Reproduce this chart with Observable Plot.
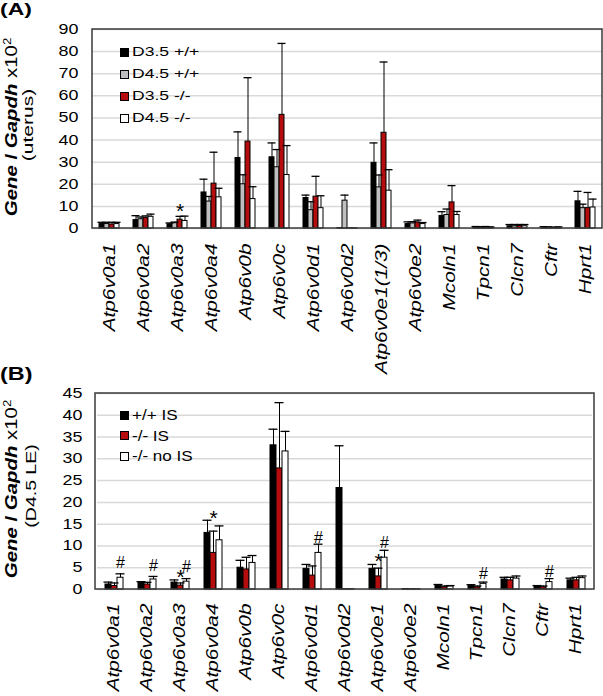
<!DOCTYPE html>
<html><head><meta charset="utf-8">
<script src="https://cdn.jsdelivr.net/npm/d3@7"></script>
<script src="https://cdn.jsdelivr.net/npm/@observablehq/plot@0.6"></script>
<style>
body{margin:0;background:#fff;font-family:"Liberation Sans",Arial,sans-serif;}
#fig{position:relative;width:603px;height:696px;overflow:hidden;background:#fff;}
#fig svg{overflow:visible;position:absolute;left:0;}
#fig svg g[aria-label="y-grid"] line{stroke:#d9d9d9;stroke-opacity:1;stroke-width:1.5px;}
#fig svg g[aria-label="fx-axis tick label"]{font-style:italic;font-size:16px;}
#fig svg g[aria-label="y-axis tick label"]{font-size:14px;}
.leg{position:absolute;left:120px;color:#000;font-family:"Liberation Sans",Arial,sans-serif;}
.leg .row{position:absolute;left:0;height:14px;display:flex;align-items:center;white-space:nowrap;}
.leg .sw{width:9px;height:9px;border:1px solid #000;box-sizing:border-box;margin-right:3px;flex:none;}
.leg .lab{display:inline-block;transform-origin:0 50%;line-height:14px;}
</style></head><body><div id="fig"></div><script>
// ---------- Panel A data (uterus) ----------
const categoriesA = ["Atp6v0a1","Atp6v0a2","Atp6v0a3","Atp6v0a4","Atp6v0b","Atp6v0c","Atp6v0d1","Atp6v0d2","Atp6v0e1(1/3)","Atp6v0e2","Mcoln1","Tpcn1","Clcn7","Cftr","Hprt1"];
const seriesA = ["D3.5 +/+","D4.5 +/+","D3.5 -/-","D4.5 -/-"];
const colorsA = ["#000000","#bfbfbf","#b50d0d","#ffffff"];
const meanA_D35wt = [2.0,3.8,1.9,16.3,31.9,32.2,13.8,0.2,29.7,2.0,5.7,0.5,1.0,0.5,12.3];
const sdA_D35wt   = [0.8,2.0,0.6,6.0,11.8,6.5,1.3,0,9.0,1.0,1.9,0.4,0.8,0.3,4.5];
const meanA_D45wt = [2.0,4.2,2.4,12.2,20.0,27.7,8.3,12.6,18.6,2.3,6.1,0.5,1.0,0.4,9.2];
const sdA_D45wt   = [0.8,1.0,0.5,2.3,4.3,8.0,3.8,2.5,5.6,0.8,2.7,0.3,0.8,0.3,1.8];
const meanA_D35ko = [1.8,4.7,4.0,20.3,39.3,51.4,14.4,0.1,43.3,2.7,11.8,0.5,1.1,0.3,9.2];
const sdA_D35ko   = [1.0,1.0,1.5,14.2,28.9,32.3,9.2,0,32.0,1.1,7.6,0.4,0.7,0.3,7.1];
const meanA_D45ko = [2.0,5.3,3.4,14.1,13.3,24.2,9.2,0.1,17.1,2.0,6.1,0.4,1.0,0.4,9.5];
const sdA_D45ko   = [0.8,1.2,2.2,4.1,5.6,13.3,5.6,0,9.5,0.7,1.6,0.3,0.8,0.3,3.8];
const annA_cat = ["Atp6v0a3"];
const annA_series = ["D3.5 -/-"];
const annA_y = [7.6];
const annA_sym = ["*"];

// ---------- Panel B data (D4.5 LE) ----------
const categoriesB = ["Atp6v0a1","Atp6v0a2","Atp6v0a3","Atp6v0a4","Atp6v0b","Atp6v0c","Atp6v0d1","Atp6v0d2","Atp6v0e1","Atp6v0e2","Mcoln1","Tpcn1","Clcn7","Cftr","Hprt1"];
const seriesB = ["+/+ IS","-/- IS","-/- no IS"];
const colorsB = ["#000000","#b50d0d","#ffffff"];
const meanB_wtIS   = [1.15,1.5,1.6,13.0,5.0,33.1,4.75,23.3,4.75,0.1,0.9,0.9,2.3,0.8,2.1];
const sdB_wtIS     = [0.55,0.3,0.6,2.9,1.7,3.7,1.0,9.7,1.0,0,0.25,0.2,0.5,0.1,0.5];
const meanB_koIS   = [0.8,1.15,0.9,8.4,4.6,27.8,3.2,0.05,3.0,0.05,0.5,0.5,2.1,0.5,2.1];
const sdB_koIS     = [0.7,0.5,0.6,5.0,2.8,15.1,2.2,0,1.9,0,0.3,0.3,0.7,0.3,0.7];
const meanB_koNoIS = [2.7,2.3,1.8,11.3,6.1,31.7,8.4,0.05,7.3,0.05,0.7,1.3,2.5,1.7,2.6];
const sdB_koNoIS   = [0.9,0.7,0.7,3.3,1.7,4.6,2.0,0,1.7,0,0.2,0.4,0.6,0.8,0.5];
const annB_cat = ["Atp6v0a1","Atp6v0a2","Atp6v0a3","Atp6v0a3","Atp6v0a4","Atp6v0d1","Atp6v0e1","Atp6v0e1","Tpcn1","Cftr"];
const annB_series = ["-/- no IS","-/- no IS","-/- IS","-/- no IS","-/- IS","-/- no IS","-/- IS","-/- no IS","-/- no IS","-/- no IS"];
const annB_y = [6.0,5.5,2.7,5.2,16.4,11.9,6.5,10.8,3.7,4.1];
const annB_sym = ["#","#","*","#","*","#","*","#","#","#"];

const FONT = "Liberation Sans, Arial, sans-serif";

function buildRows(cats, series, means, sds) {
  const rows = [];
  series.forEach((s, si) => cats.forEach((c, ci) =>
    rows.push({cat: c, series: s, value: means[si][ci], top: means[si][ci] + sds[si][ci], sd: sds[si][ci]})));
  return rows;
}
function buildAnn(cats, series, ys, syms) {
  return cats.map((c, i) => ({cat: c, series: series[i], y: ys[i], sym: syms[i]}));
}

function panel(o) {
  const rows = buildRows(o.cats, o.series, o.means, o.sds);
  const ann = buildAnn(o.annCat, o.annSeries, o.annY, o.annSym);
  const svg = Plot.plot({
    width: 603, height: o.height,
    marginTop: o.mt, marginBottom: o.mb, marginLeft: o.ml, marginRight: o.mr,
    style: {fontFamily: FONT, fontSize: "14px", color: "#000", background: "transparent", overflow: "visible"},
    fx: {domain: o.cats, padding: 0, axis: "bottom", tickRotate: -90, tickSize: 0, tickPadding: o.fxPad, label: null},
    x: {domain: o.series, axis: null, paddingInner: 0, paddingOuter: o.xPadOuter},
    y: {domain: [0, o.yMax], ticks: 9, tickSize: 0, tickPadding: o.yPad, grid: true, label: null},
    color: {domain: o.series, range: o.colors},
    marks: [
      Plot.barY(rows, {fx: "cat", x: "series", y: "value", fill: "series", stroke: "#000", strokeWidth: 1}),
      Plot.ruleX(rows.filter(d => d.sd > 0), {fx: "cat", x: "series", y1: "value", y2: "top", stroke: "#000", strokeWidth: 1}),
      Plot.tickY(rows.filter(d => d.sd > 0), {fx: "cat", x: "series", y: "top", stroke: "#000", strokeWidth: 1.3, insetLeft: -1.5, insetRight: -1.5}),
      Plot.text(ann.filter(d => d.sym === "*"), {fx: "cat", x: "series", y: "y", text: "sym", fontSize: 21, fill: "#000"}),
      Plot.text(ann.filter(d => d.sym === "#"), {fx: "cat", x: "series", y: "y", text: "sym", fontSize: 16, fill: "#000"})
    ]
  });
  // frame drawn from the plot's own scales
  const fx = svg.scale("fx"), y = svg.scale("y");
  const x0 = Math.min(...fx.range), x1 = Math.max(...fx.range);
  const y0 = Math.min(...y.range), y1 = Math.max(...y.range);
  d3.select(svg).append("rect").attr("x", x0).attr("y", y0).attr("width", x1 - x0).attr("height", y1 - y0)
    .attr("fill", "none").attr("stroke", "#3a3a3a").attr("stroke-width", 1.5);
  // stretch tick labels along the text direction
  svg.querySelectorAll('g[aria-label="y-axis tick label"] text').forEach(t => {
    t.setAttribute("transform", (t.getAttribute("transform") || "") + ` scale(${o.kTick},1)`);
  });
  svg.querySelectorAll('g[aria-label="fx-axis tick label"] text').forEach(t => {
    t.setAttribute("transform", (t.getAttribute("transform") || "") + ` scale(${o.kCat},1)`);
  });
  return svg;
}

function addText(svg, {x, y, rotate = 0, k = 1, size, anchor = "start", parts}) {
  const t = d3.select(svg).append("text")
    .attr("transform", `translate(${x},${y}) rotate(${rotate}) scale(${k},1)`)
    .attr("text-anchor", anchor).attr("font-size", size).attr("fill", "#000")
    .attr("font-family", FONT);
  parts.forEach(p => {
    const s = t.append("tspan").text(p.text);
    if (p.weight) s.attr("font-weight", p.weight);
    if (p.style) s.attr("font-style", p.style);
    if (p.size) s.attr("font-size", p.size);
    if (p.dy) s.attr("dy", p.dy);
  });
}
const titleParts = [
  {text: "Gene", weight: "bold", style: "italic"},
  {text: " / ", weight: "bold"},
  {text: "Gapdh", weight: "bold", style: "italic"},
  {text: " x10"},
  {text: "2", size: 11, dy: -6}
];

function legend(fig, top, series, colors, size, k, step) {
  const div = document.createElement("div");
  div.className = "leg";
  div.style.top = top + "px";
  series.forEach((s, i) => {
    const row = document.createElement("div");
    row.className = "row";
    row.style.top = (i * step - 7) + "px";
    const sw = document.createElement("span");
    sw.className = "sw"; sw.style.background = colors[i];
    const lab = document.createElement("span");
    lab.className = "lab"; lab.textContent = s;
    lab.style.fontSize = size + "px";
    lab.style.transform = `scaleX(${k})`;
    row.appendChild(sw); row.appendChild(lab);
    div.appendChild(row);
  });
  fig.appendChild(div);
}

const fig = document.getElementById("fig");

const svgA = panel({
  cats: categoriesA, series: seriesA, colors: colorsA,
  means: [meanA_D35wt, meanA_D45wt, meanA_D35ko, meanA_D45ko],
  sds: [sdA_D35wt, sdA_D45wt, sdA_D35ko, sdA_D45ko],
  annCat: annA_cat, annSeries: annA_series, annY: annA_y, annSym: annA_sym,
  height: 370, mt: 29, mb: 142, ml: 92, mr: 1, yMax: 90, xPadOuter: 1.4,
  fxPad: 15, yPad: 14, kTick: 1.28, kCat: 1.3
});
svgA.style.top = "0px";
fig.appendChild(svgA);
addText(svgA, {x: 0, y: 15, size: 17, k: 1.35, parts: [{text: "(A)", weight: "bold"}]});
addText(svgA, {x: 17, y: 127, rotate: -90, k: 1.2, size: 17, anchor: "middle", parts: titleParts});
addText(svgA, {x: 33, y: 125, rotate: -90, k: 1.4, size: 15, anchor: "middle", parts: [{text: "(uterus)"}]});

const svgB = panel({
  cats: categoriesB, series: seriesB, colors: colorsB,
  means: [meanB_wtIS, meanB_koIS, meanB_koNoIS],
  sds: [sdB_wtIS, sdB_koIS, sdB_koNoIS],
  annCat: annB_cat, annSeries: annB_series, annY: annB_y, annSym: annB_sym,
  height: 326, mt: 23, mb: 107, ml: 95, mr: 9, yMax: 45, xPadOuter: 1.18,
  fxPad: 14, yPad: 15, kTick: 1.28, kCat: 1.3
});
svgB.style.top = "370px";
fig.appendChild(svgB);
addText(svgB, {x: 0, y: 10, size: 18, k: 1.3, parts: [{text: "(B)", weight: "bold"}]});
addText(svgB, {x: 17, y: 119, rotate: -90, k: 1.2, size: 17, anchor: "middle", parts: titleParts});
addText(svgB, {x: 36, y: 116, rotate: -90, k: 1.3, size: 15, anchor: "middle", parts: [{text: "(D4.5 LE)"}]});

legend(fig, 52, seriesA, colorsA, 13, 1.35, 22);
legend(fig, 415, seriesB, colorsB, 14, 1.22, 20.5);
</script></body></html>
